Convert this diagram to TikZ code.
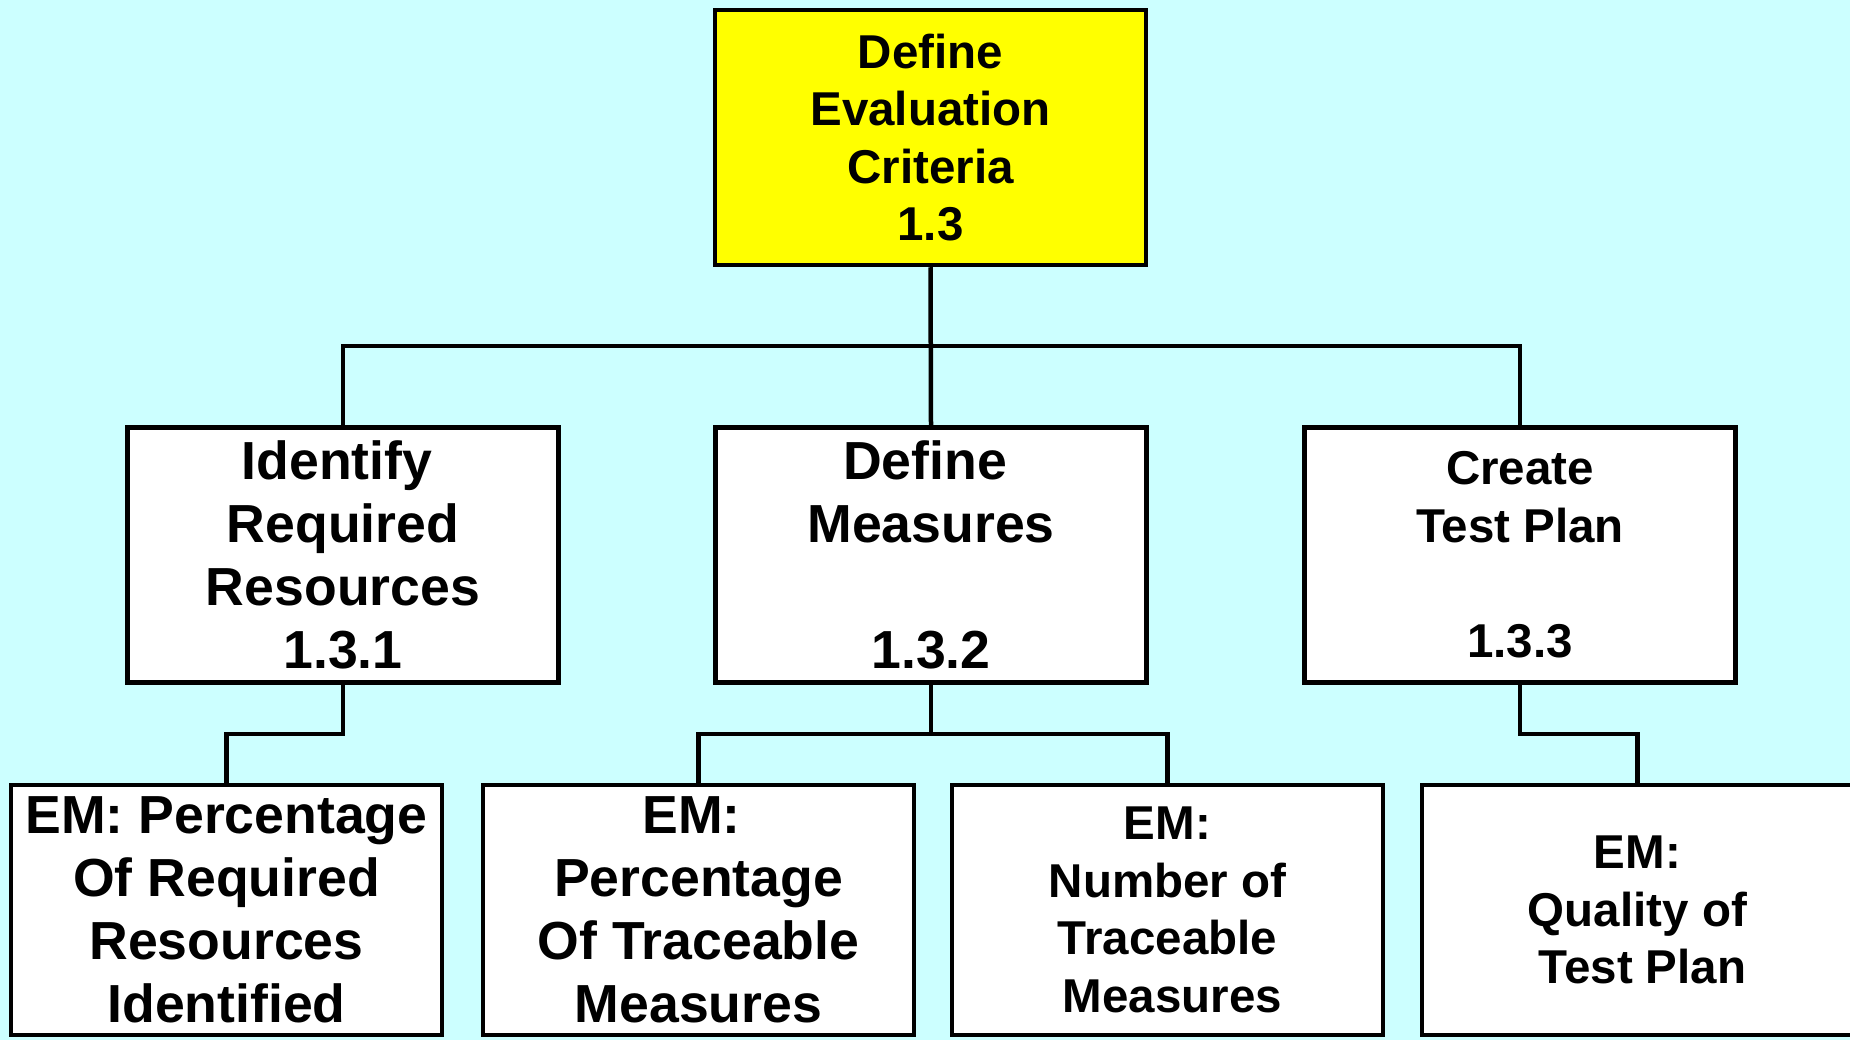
\documentclass[tikz,border=0pt]{standalone}
\usepackage{fontspec}
\setmainfont{Liberation Sans}
\usetikzlibrary{positioning}

\definecolor{bgcyan}{RGB}{204,255,255}
\definecolor{topyellow}{RGB}{255,255,0}

\newcommand{\bigtxt}{\fontsize{53.6}{63}\selectfont\bfseries}
\newcommand{\smalltxt}{\fontsize{47.5}{57.5}\selectfont\bfseries}

\begin{document}
\begin{tikzpicture}[x=1pt, y=-1pt, line width=4.5pt,
		taskbox/.style={draw=black, fill=white, minimum width=431pt, minimum height=255pt, inner sep=0pt, align=center, font=\bigtxt},
		embox/.style={taskbox, minimum height=250pt},
		small/.style={font=\smalltxt},
		link/.style={draw=black, line width=4.5pt}]
				\useasboundingbox (0,0) rectangle (1850,1040);
				\fill[bgcyan] (0,0) rectangle (1850,1040);
				\clip (0,0) rectangle (1850,1040);

				% top task
				\node[taskbox, small, fill=topyellow] (crit) at (930.5,137.5) {Define\\Evaluation\\Criteria\\1.3};

				% second level
				\node[taskbox] (res) at (343,555) {Identify\hspace*{12pt}\\Required\\Resources\\1.3.1};
				\node[taskbox] (meas) at (931,555) {Define\hspace*{12pt}\\Measures\\[63pt]1.3.2};
				\node[taskbox, small] (plan) at (1520,555) {Create\\Test Plan\\[58pt]1.3.3};

				% evaluation measures
				\node[embox] (em1) at (226.5,910) {EM: Percentage\\Of Required\\Resources\\Identified};
				\node[embox] (em2) at (698.5,910) {EM:\hspace*{14pt}\\Percentage\\Of Traceable\\Measures};
				\node[embox, small] (em3) at (1167.5,910) {EM:\\Number of\\Traceable\\\hspace*{10pt}Measures};
				\node[embox, small] (em4) at (1637.5,910) {EM:\\Quality of\\\hspace*{10pt}Test Plan};

				\coordinate (bus) at (931,346);
				\draw[link] (crit.south) -- (meas.north);
				\draw[link] (res.north) |- (bus) -| (plan.north);

				\draw[link] (res.south) -- ++(0,49) -| (em1.north);
				\draw[link] (meas.south) -- ++(0,49) coordinate (mfork);
				\draw[link] (em2.north) |- (mfork) -| (em3.north);
				\draw[link] (plan.south) -- ++(0,49) -| (em4.north);

\end{tikzpicture}
\end{document}
